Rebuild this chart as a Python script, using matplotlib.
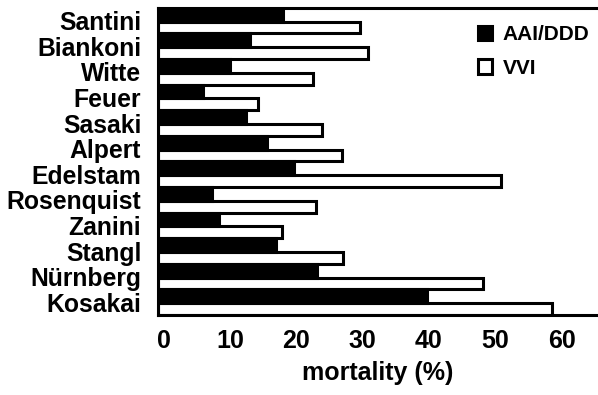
import numpy as np
import matplotlib
matplotlib.use("Agg")
import matplotlib.pyplot as plt

plt.rcParams['font.family'] = ['Liberation Sans', 'DejaVu Sans']
plt.rcParams['font.weight'] = 'bold'
plt.rcParams['axes.labelweight'] = 'bold'

# studies, top to bottom
studies = ["Santini", "Biankoni", "Witte", "Feuer", "Sasaki", "Alpert",
           "Edelstam", "Rosenquist", "Zanini", "Stangl", "Nürnberg", "Kosakai"]
aai_ddd = [18.0, 13.0, 10.0, 5.9, 12.4, 15.6, 19.6, 7.3, 8.3, 16.9, 23.1, 39.7]
vvi = [29.6, 30.8, 22.5, 14.2, 23.9, 26.9, 50.9, 23.0, 17.8, 27.0, 48.2, 58.6]
xticks = [0, 10, 20, 30, 40, 50, 60]

XMIN, XMAX = -0.9, 65.5

fig = plt.figure(figsize=(5.98, 3.95), dpi=100)
ax = fig.add_axes([0.264, 0.2025, 0.736, 0.7775])

y = np.arange(len(studies))[::-1]
h_black, h_white = 0.54, 0.46
aai = np.array(aai_ddd)
vv = np.array(vvi)
ax.barh(y - 0.5 + h_white / 2, vv - XMIN, left=XMIN, height=h_white,
        color="white", edgecolor="black", linewidth=2.2, label="VVI")
ax.barh(y + 0.5 - h_black / 2, aai - XMIN, left=XMIN, height=h_black,
        color="black", edgecolor="black", linewidth=2.2, label="AAI/DDD")

ax.set_xlim(XMIN, XMAX)
ax.set_ylim(-0.5, len(studies) - 0.5)
ax.set_yticks(y)
ax.set_yticklabels(studies, fontsize=17.8)
ax.set_xticks(xticks)
ax.set_xticklabels([str(t) for t in xticks], fontsize=18)
ax.tick_params(axis="both", length=0)
ax.tick_params(axis="y", pad=12)
ax.tick_params(axis="x", pad=10)
ax.set_xlabel("mortality (%)", fontsize=18, labelpad=6)

for s in ["top", "left", "bottom"]:
    ax.spines[s].set_linewidth(2.2)
ax.spines["right"].set_visible(False)

handles, labels = ax.get_legend_handles_labels()
ax.legend(handles[::-1], labels[::-1], loc="upper left",
          bbox_to_anchor=(0.799, 0.936), bbox_transform=fig.transFigure,
          frameon=False, fontsize=15, handlelength=0.7, handleheight=0.7,
          handletextpad=0.5, labelspacing=0.7, borderpad=0, borderaxespad=0)

fig.savefig("out.png", dpi=100)
